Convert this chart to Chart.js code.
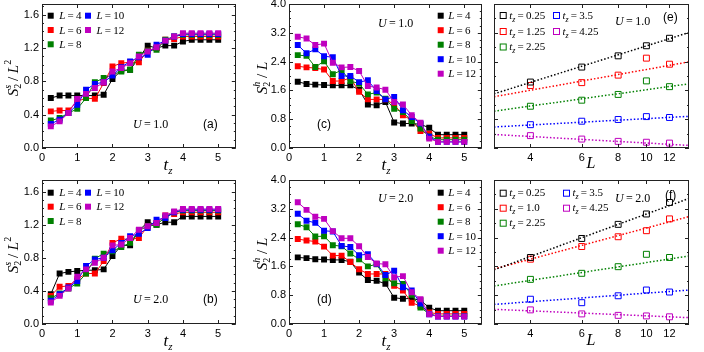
<!DOCTYPE html>
<html>
<head>
<meta charset="utf-8">
<script src="https://cdn.jsdelivr.net/npm/chart.js@4"></script>
<style>
body { margin: 0; background: #fff; }
#fig { position: relative; width: 704px; height: 352px; overflow: hidden; background: #fff; }
canvas { position: absolute; }
</style>
</head>
<body>
<div id="fig">
<canvas id="ca" width="240" height="182" style="left:0px;top:-6px"></canvas>
<canvas id="cb" width="240" height="182" style="left:0px;top:170px"></canvas>
<canvas id="cc" width="246" height="182" style="left:240px;top:-6px"></canvas>
<canvas id="cd" width="246" height="182" style="left:240px;top:170px"></canvas>
<canvas id="ce" width="218" height="182" style="left:486px;top:-6px"></canvas>
<canvas id="cf" width="218" height="182" style="left:486px;top:170px"></canvas>
</div>
<script>
// t_z grid and system sizes
const TZ = [0.25, 0.5, 0.75, 1.0, 1.25, 1.5, 1.75, 2.0, 2.25, 2.5, 2.75, 3.0, 3.25, 3.5, 3.75, 4.0, 4.25, 4.5, 4.75, 5.0];
const L_NAMES = ['4', '6', '8', '10', '12'];
const COLORS = ['#000000', '#ff0000', '#008000', '#0000ff', '#bf00bf'];

// tick positions
const X_TICKS = [0, 1, 2, 3, 4, 5];
const Y_TICKS_S = [0, 0.4, 0.8, 1.2, 1.6];
const Y_TICKS_H = [0, 0.8, 1.6, 2.4, 3.2, 4.0];
const Y_TICKS_SCALE = [0, 1, 2, 3, 4, 5];

// (a) S2^s / L^2, U = 1.0
const A_L4  = [0.60, 0.63, 0.63, 0.63, 0.63, 0.63, 0.64, 0.83, 0.93, 0.94, 1.08, 1.23, 1.20, 1.23, 1.23, 1.28, 1.30, 1.30, 1.30, 1.30];
const A_L6  = [0.44, 0.45, 0.45, 0.56, 0.60, 0.59, 0.78, 0.98, 1.02, 1.03, 1.03, 1.17, 1.20, 1.30, 1.31, 1.34, 1.34, 1.34, 1.34, 1.34];
const A_L8  = [0.33, 0.36, 0.42, 0.47, 0.60, 0.79, 0.84, 0.88, 0.92, 0.94, 1.12, 1.17, 1.18, 1.30, 1.34, 1.36, 1.36, 1.36, 1.36, 1.36];
const A_L10 = [0.29, 0.34, 0.42, 0.52, 0.70, 0.77, 0.79, 0.87, 0.97, 1.04, 1.09, 1.12, 1.24, 1.29, 1.34, 1.37, 1.37, 1.37, 1.37, 1.37];
const A_L12 = [0.26, 0.32, 0.42, 0.59, 0.65, 0.72, 0.79, 0.92, 0.96, 1.02, 1.10, 1.16, 1.21, 1.29, 1.34, 1.38, 1.38, 1.38, 1.38, 1.38];

// (b) S2^s / L^2, U = 2.0
const B_L4  = [0.36, 0.61, 0.63, 0.64, 0.65, 0.65, 0.66, 0.82, 0.95, 0.95, 1.13, 1.23, 1.20, 1.23, 1.23, 1.30, 1.30, 1.30, 1.30, 1.30];
const B_L6  = [0.34, 0.45, 0.46, 0.54, 0.61, 0.61, 0.76, 0.98, 1.03, 1.02, 1.04, 1.18, 1.22, 1.31, 1.33, 1.35, 1.35, 1.35, 1.35, 1.35];
const B_L8  = [0.31, 0.37, 0.43, 0.49, 0.61, 0.79, 0.85, 0.88, 0.93, 0.98, 1.13, 1.18, 1.20, 1.29, 1.35, 1.37, 1.37, 1.37, 1.37, 1.37];
const B_L10 = [0.28, 0.36, 0.44, 0.52, 0.70, 0.78, 0.80, 0.89, 0.98, 1.06, 1.09, 1.16, 1.26, 1.28, 1.35, 1.38, 1.38, 1.38, 1.38, 1.38];
const B_L12 = [0.26, 0.34, 0.43, 0.57, 0.66, 0.74, 0.80, 0.95, 0.96, 1.04, 1.14, 1.18, 1.22, 1.31, 1.36, 1.39, 1.39, 1.39, 1.39, 1.39];

// (c) S2^h / L, U = 1.0
const C_L4  = [1.84, 1.78, 1.76, 1.75, 1.74, 1.74, 1.74, 1.62, 1.21, 1.19, 1.28, 0.71, 0.68, 0.68, 0.66, 0.56, 0.37, 0.37, 0.37, 0.37];
const C_L6  = [2.27, 2.24, 2.22, 2.18, 1.86, 1.86, 1.95, 1.56, 1.35, 1.35, 1.35, 1.21, 0.91, 0.77, 0.47, 0.40, 0.28, 0.28, 0.28, 0.28];
const C_L8  = [2.58, 2.56, 2.25, 2.41, 2.05, 2.16, 1.86, 1.79, 1.49, 1.54, 1.37, 1.09, 1.00, 0.75, 0.54, 0.32, 0.23, 0.23, 0.23, 0.23];
const C_L10 = [2.86, 2.63, 2.74, 2.55, 2.52, 2.00, 2.00, 1.83, 1.88, 1.58, 1.35, 1.42, 1.05, 0.86, 0.68, 0.31, 0.17, 0.17, 0.17, 0.17];
const C_L12 = [3.09, 3.04, 2.86, 2.90, 2.37, 2.24, 2.25, 2.14, 1.72, 1.68, 1.62, 1.28, 1.21, 0.91, 0.70, 0.26, 0.17, 0.17, 0.17, 0.17];

// (d) S2^h / L, U = 2.0
const D_L4  = [1.85, 1.83, 1.80, 1.79, 1.78, 1.78, 1.73, 1.43, 1.22, 1.20, 1.12, 0.73, 0.70, 0.71, 0.66, 0.45, 0.37, 0.37, 0.37, 0.37];
const D_L6  = [2.36, 2.32, 2.29, 2.15, 1.90, 1.90, 1.72, 1.52, 1.39, 1.39, 1.39, 1.06, 0.93, 0.59, 0.50, 0.32, 0.28, 0.28, 0.28, 0.28];
const D_L8  = [2.77, 2.69, 2.43, 2.44, 2.19, 2.16, 1.96, 1.80, 1.60, 1.66, 1.27, 1.13, 1.11, 0.81, 0.46, 0.28, 0.22, 0.22, 0.22, 0.22];
const D_L10 = [3.06, 2.87, 2.81, 2.59, 2.57, 2.17, 2.14, 1.91, 1.94, 1.67, 1.36, 1.48, 1.02, 0.93, 0.57, 0.27, 0.21, 0.21, 0.21, 0.21];
const D_L12 = [3.38, 3.17, 2.98, 2.92, 2.58, 2.38, 2.38, 2.16, 1.86, 1.68, 1.66, 1.30, 1.33, 0.88, 0.69, 0.27, 0.21, 0.21, 0.21, 0.21];

// (e), (f) scaling with L (log axis), y axis unlabelled
const LS = [4, 6, 8, 10, 12];
const FIT_L = [3, 14];
const E_TZ = ['0.25', '1.25', '2.25', '3.5', '4.25'];
const F_TZ = ['0.25', '1.0', '2.25', '3.5', '4.25'];

const E_T1 = [2.29, 2.81, 3.20, 3.55, 3.81], E_FIT1 = [1.88, 4.01];
const E_T2 = [2.17, 2.27, 2.53, 3.12, 2.91], E_FIT2 = [1.78, 2.99];
const E_T3 = [1.45, 1.66, 1.86, 2.33, 2.13], E_FIT3 = [1.28, 2.23];
const E_T4 = [0.81, 0.93, 0.99, 1.09, 1.06], E_FIT4 = [0.73, 1.10];
const E_T5 = [0.43, 0.31, 0.23, 0.20, 0.17], E_FIT5 = [0.47, 0.09];

const F_T1 = [2.31, 2.97, 3.46, 3.82, 4.22], F_FIT1 = [1.88, 4.36];
const F_T2 = [2.25, 2.69, 3.03, 3.24, 3.65], F_FIT2 = [1.91, 3.73];
const F_T3 = [1.55, 1.76, 1.99, 2.42, 2.31], F_FIT3 = [1.32, 2.36];
const F_T4 = [0.86, 0.74, 0.98, 1.18, 1.11], F_FIT4 = [0.68, 1.18];
const F_T5 = [0.49, 0.35, 0.30, 0.28, 0.25], F_FIT5 = [0.51, 0.22];

const SERIF = "'Liberation Serif', 'DejaVu Serif', serif";
const SANS = "'Liberation Sans', 'DejaVu Sans', sans-serif";

function fontOf(r) {
    return (r.it ? 'italic ' : '') + (r.sz || 11) + 'px ' + (r.sans ? SANS : SERIF);
}

// draw a row of text runs (for sub/superscripts); keep = don't advance
function drawRuns(ctx, runs, x, y, align) {
    let total = 0;
    runs.forEach(r => {
        ctx.font = fontOf(r);
        r._w = ctx.measureText(r.t).width;
        if (!r.keep) total += r._w;
    });
    let cx = align === 'center' ? x - total / 2 : x;
    runs.forEach(r => {
        ctx.font = fontOf(r);
        ctx.fillText(r.t, cx, y + (r.dy || 0));
        if (!r.keep) cx += r._w;
    });
}

const Y_SS = [{t: 'S', it: 1, sz: 15}, {t: '2', sz: 10, dy: 3, keep: 1}, {t: 's', it: 1, sz: 10, dy: -7},
    {t: ' / ', sz: 15}, {t: 'L', it: 1, sz: 15}, {t: '2', sz: 10, dy: -7}];
const Y_SH = [{t: 'S', it: 1, sz: 15}, {t: '2', sz: 10, dy: 3, keep: 1}, {t: 'h', it: 1, sz: 10, dy: -7},
    {t: ' / ', sz: 15}, {t: 'L', it: 1, sz: 15}];
const X_TZ = [{t: 't', it: 1, sz: 17}, {t: 'z', it: 1, sz: 11, dy: 4}];
const X_L = [{t: 'L', it: 1, sz: 16}];

function uText(u) { return [{t: 'U', it: 1, sz: 12}, {t: '\u2009=\u2009' + u, sz: 12}]; }
function tag(s) { return [{t: s, sz: 12, sans: 1}]; }
function lName(n) { return [{t: 'L', it: 1, sz: 11}, {t: '\u2009=\u2009' + n, sz: 11}]; }
function tName(n) { return [{t: 't', it: 1, sz: 11}, {t: 'z', it: 1, sz: 8, dy: 3}, {t: '\u2009=\u2009' + n, sz: 11}]; }

function deco(p) {
    return {
        id: 'deco_' + p.id,
        afterDraw(chart) {
            const ctx = chart.ctx, a = chart.chartArea;
            const xs = chart.scales.x, ys = chart.scales.y;
            ctx.save();
            ctx.strokeStyle = '#222';
            ctx.lineWidth = 1;
            ctx.strokeRect(Math.round(a.left) + 0.5, Math.round(a.top) + 0.5,
                Math.round(a.right - a.left) - 1, Math.round(a.bottom - a.top) - 1);
            ctx.beginPath();
            xs.ticks.forEach(t => {
                const px = Math.round(xs.getPixelForValue(t.value)) + 0.5;
                ctx.moveTo(px, a.bottom); ctx.lineTo(px, a.bottom - 4);
                ctx.moveTo(px, a.top); ctx.lineTo(px, a.top + 4);
            });
            for (let v = ys.min; v <= ys.max + 1e-9; v += p.yMinor) {
                const k = v / p.yStep;
                const len = Math.abs(k - Math.round(k)) < 1e-6 ? 4 : 2;
                const py = Math.round(ys.getPixelForValue(v)) + 0.5;
                ctx.moveTo(a.left, py); ctx.lineTo(a.left + len, py);
                ctx.moveTo(a.right, py); ctx.lineTo(a.right - len, py);
            }
            ctx.stroke();

            // everything below in page coordinates
            ctx.translate(-p.left, -p.top);
            ctx.fillStyle = '#000';
            ctx.textBaseline = 'alphabetic';
            p.legend.forEach((pos, i) => {
                const c = COLORS[i];
                if (p.open) {
                    ctx.strokeStyle = c;
                    ctx.strokeRect(pos[0] - 2.5, pos[1] - 2.5, 6, 6);
                } else {
                    ctx.fillStyle = c;
                    ctx.fillRect(pos[0] - 3, pos[1] - 3, 6, 6);
                }
                ctx.fillStyle = '#000';
                drawRuns(ctx, p.names[i], pos[0] + p.textGap, pos[1] + 3.5, 'left');
            });
            p.texts.forEach(tx => drawRuns(ctx, tx[0], tx[1], tx[2], 'left'));
            drawRuns(ctx, p.xTitle[0], p.xTitle[1], p.xTitle[2], 'center');
            if (p.yTitle) {
                ctx.save();
                ctx.translate(p.yTitle[1], p.yTitle[2]);
                ctx.rotate(-Math.PI / 2);
                drawRuns(ctx, p.yTitle[0], 0, 0, 'center');
                ctx.restore();
            }
            ctx.restore();
        }
    };
}

function sizeSets(series) {
    return series.map((vals, i) => ({
        label: 'L = ' + L_NAMES[i],
        data: vals.map((v, k) => ({x: TZ[k], y: v})),
        showLine: true,
        borderColor: COLORS[i],
        backgroundColor: COLORS[i],
        borderWidth: 1,
        pointStyle: 'rect',
        pointRadius: 4.2,
        pointBorderWidth: 0,
        order: series.length - i
    }));
}

function scaleSets(series, fits, names) {
    const out = [];
    series.forEach((vals, i) => {
        out.push({
            label: 't_z = ' + names[i],
            data: vals.map((v, k) => ({x: LS[k], y: v})),
            showLine: false,
            borderColor: COLORS[i],
            backgroundColor: 'rgba(0,0,0,0)',
            pointStyle: 'rect',
            pointRadius: 4.2,
            pointBorderWidth: 1
        });
        out.push({
            label: 'fit ' + names[i],
            data: fits[i].map((v, k) => ({x: FIT_L[k], y: v})),
            showLine: true,
            borderColor: COLORS[i],
            borderWidth: 1.5,
            borderDash: [1.5, 2],
            pointRadius: 0
        });
    });
    return out;
}

const tickFont = {family: SANS, size: 11};

function makeChart(p, datasets) {
    const logX = p.logX;
    const xScale = logX ? {
        type: 'logarithmic', min: 3, max: 14,
        afterBuildTicks: s => { s.ticks = LS.map(v => ({value: v})); },
        ticks: {callback: v => String(v), color: '#000', font: tickFont, padding: 3, autoSkip: false, maxRotation: 0},
    } : {
        type: 'linear', min: 0, max: 5.5,
        afterBuildTicks: s => { s.ticks = X_TICKS.map(v => ({value: v})); },
        ticks: {callback: v => String(v), color: '#000', font: tickFont, padding: 3, autoSkip: false, maxRotation: 0},
    };
    xScale.grid = {display: false, drawTicks: false};
    xScale.border = {display: false};
    xScale.afterFit = s => { s.height = 28; };

    const yScale = {
        type: 'linear', min: 0, max: p.yMax,
        afterBuildTicks: s => { s.ticks = p.yTicks.map(v => ({value: v})); },
        ticks: {display: !logX, color: '#000', font: tickFont, padding: 3, autoSkip: false,
            callback: v => v.toFixed(1)},
        grid: {display: false, drawTicks: false},
        border: {display: false},
        afterFit: s => { s.width = p.yW; }
    };

    return new Chart(document.getElementById('c' + p.id), {
        type: 'scatter',
        data: {datasets: datasets},
        options: {
            responsive: false,
            animation: false,
            layout: {padding: {top: 10, right: p.padR, left: 0, bottom: 0}},
            plugins: {legend: {display: false}, tooltip: {enabled: false}},
            scales: {x: xScale, y: yScale}
        },
        plugins: [deco(p)]
    });
}

const L_NAMES_RUNS = L_NAMES.map(lName);

makeChart({
    id: 'a', left: 0, top: -6, yW: 42, padR: 1, yMax: 1.73, yTicks: Y_TICKS_S, yStep: 0.4, yMinor: 0.1,
    legend: [[50.7, 15.7], [50.7, 30], [50.7, 44.3], [88, 15.7], [88, 30]], names: L_NAMES_RUNS, textGap: 8.5,
    texts: [[uText('1.0'), 133, 128], [tag('(a)'), 203, 128]],
    xTitle: [X_TZ, 168, 170], yTitle: [Y_SS, 18, 78]
}, sizeSets([A_L4, A_L6, A_L8, A_L10, A_L12]));

makeChart({
    id: 'b', left: 0, top: 170, yW: 42, padR: 1, yMax: 1.74, yTicks: Y_TICKS_S, yStep: 0.4, yMinor: 0.1,
    legend: [[50.7, 192.7], [50.7, 206.7], [50.7, 221], [88, 192.7], [88, 206.7]], names: L_NAMES_RUNS, textGap: 8.5,
    texts: [[uText('2.0'), 133, 303], [tag('(b)'), 203, 303]],
    xTitle: [X_TZ, 168, 346], yTitle: [Y_SS, 18, 255]
}, sizeSets([B_L4, B_L6, B_L8, B_L10, B_L12]));

makeChart({
    id: 'c', left: 240, top: -6, yW: 49, padR: 1, yMax: 4.0, yTicks: Y_TICKS_H, yStep: 0.8, yMinor: 0.2,
    legend: [[440.7, 15.7], [440.7, 30.2], [440.7, 44.7], [440.7, 59.2], [440.7, 73.7]], names: L_NAMES_RUNS, textGap: 7.5,
    texts: [[uText('1.0'), 378, 27], [tag('(c)'), 317, 128]],
    xTitle: [X_TZ, 386, 170], yTitle: [Y_SH, 267, 78]
}, sizeSets([C_L4, C_L6, C_L8, C_L10, C_L12]));

makeChart({
    id: 'd', left: 240, top: 170, yW: 49, padR: 1, yMax: 4.0, yTicks: Y_TICKS_H, yStep: 0.8, yMinor: 0.2,
    legend: [[440.7, 192.7], [440.7, 207.2], [440.7, 221.7], [440.7, 236.2], [440.7, 250.7]], names: L_NAMES_RUNS, textGap: 7.5,
    texts: [[uText('2.0'), 378, 202], [tag('(d)'), 317, 303]],
    xTitle: [X_TZ, 386, 346], yTitle: [Y_SH, 267, 254]
}, sizeSets([D_L4, D_L6, D_L8, D_L10, D_L12]));

makeChart({
    id: 'e', left: 486, top: -6, yW: 8, padR: 15, yMax: 5, yTicks: Y_TICKS_SCALE, yStep: 1, yMinor: 0.5, logX: true, open: true,
    legend: [[502.7, 15], [502.7, 31], [502.7, 46.5], [556, 15], [556, 31]], names: E_TZ.map(tName), textGap: 6.5,
    texts: [[uText('1.0'), 615, 25], [tag('(e)'), 663, 21]],
    xTitle: [X_L, 591, 168]
}, scaleSets([E_T1, E_T2, E_T3, E_T4, E_T5], [E_FIT1, E_FIT2, E_FIT3, E_FIT4, E_FIT5], E_TZ));

makeChart({
    id: 'f', left: 486, top: 170, yW: 8, padR: 15, yMax: 5, yTicks: Y_TICKS_SCALE, yStep: 1, yMinor: 0.5, logX: true, open: true,
    legend: [[502.7, 192.7], [502.7, 207.7], [502.7, 222.7], [566, 192.7], [566, 207.7]], names: F_TZ.map(tName), textGap: 6.5,
    texts: [[uText('2.0'), 615, 202], [tag('(f)'), 665, 199]],
    xTitle: [X_L, 591, 345]
}, scaleSets([F_T1, F_T2, F_T3, F_T4, F_T5], [F_FIT1, F_FIT2, F_FIT3, F_FIT4, F_FIT5], F_TZ));
</script>
</body>
</html>
